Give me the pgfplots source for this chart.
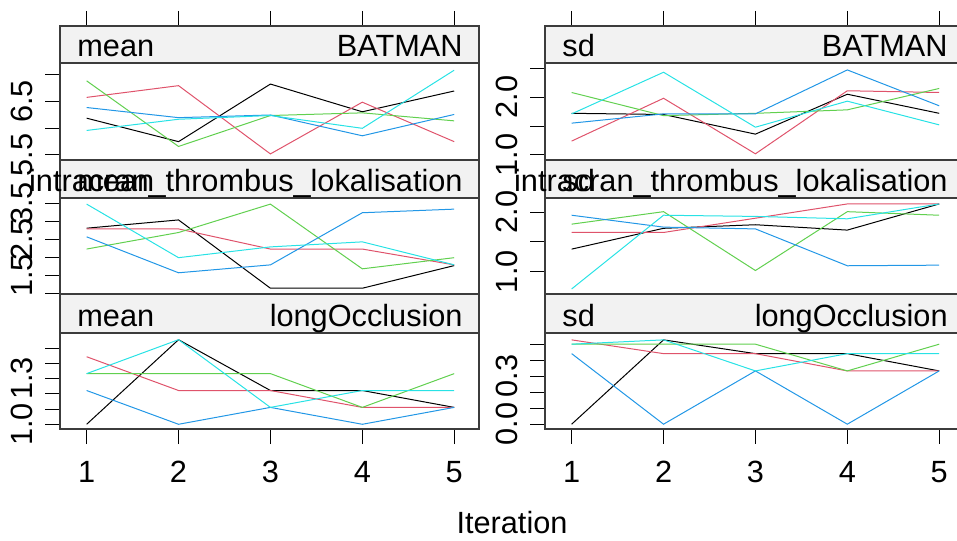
\documentclass[border=0pt]{standalone}
\usepackage{fontspec}
\setmainfont{Liberation Sans}
\usepackage{pgfplots}
\usepackage{pgfplotstable}
\pgfplotsset{compat=1.18}

% chain colours
\definecolor{ch1}{HTML}{000000}
\definecolor{ch2}{HTML}{DF536B}
\definecolor{ch3}{HTML}{61D04F}
\definecolor{ch4}{HTML}{2297E6}
\definecolor{ch5}{HTML}{28E2E5}
\definecolor{stripbg}{HTML}{F2F2F2}
\definecolor{framec}{HTML}{3C3C3C}

\newcommand\lf{\fontsize{15.35}{18.4}\selectfont}

% mean / sd per iteration, one column per chain
\pgfplotstableread{
it c1 c2 c3 c4 c5
1 6.19 6.58 6.89 6.39 5.96
2 5.75 6.80 5.66 6.20 6.17
3 6.83 5.52 6.24 6.25 6.24
4 6.31 6.49 6.29 5.86 6.00
5 6.70 5.75 6.14 6.26 7.09
}\meanBat
\pgfplotstableread{
it c1 c2 c3 c4 c5
1 1.72 1.24 2.08 1.55 1.71
2 1.70 1.98 1.68 1.71 2.43
3 1.36 1.02 1.72 1.71 1.48
4 2.05 2.11 1.78 2.47 1.93
5 1.72 2.08 2.15 1.85 1.52
}\sdBat
\pgfplotstableread{
it c1 c2 c3 c4 c5
1 2.81 2.79 2.23 2.57 3.48
2 3.04 2.79 2.69 1.57 1.99
3 1.14 2.23 3.48 1.79 2.29
4 1.14 2.23 1.68 3.24 2.43
5 1.77 1.79 1.99 3.34 1.79
}\meanIntra
\pgfplotstableread{
it c1 c2 c3 c4 c5
1 1.38 1.66 1.80 1.95 0.71
2 1.73 1.66 2.01 1.75 1.95
3 1.79 1.90 1.02 1.72 1.93
4 1.70 2.14 2.01 1.10 1.89
5 2.14 2.14 1.95 1.11 2.14
}\sdIntra
\pgfplotstableread{
it c1 c2 c3 c4 c5
1 1.000 1.444 1.333 1.222 1.333
2 1.556 1.222 1.333 1.000 1.556
3 1.222 1.222 1.333 1.111 1.111
4 1.222 1.111 1.111 1.000 1.222
5 1.111 1.111 1.333 1.111 1.222
}\meanLong
\pgfplotstableread{
it c1 c2 c3 c4 c5
1 0.000 0.527 0.500 0.441 0.500
2 0.527 0.441 0.500 0.000 0.527
3 0.441 0.441 0.500 0.333 0.333
4 0.441 0.333 0.333 0.000 0.441
5 0.333 0.333 0.500 0.333 0.441
}\sdLong

\newcommand\chains[1]{%
  \addplot[ch1] table[x=it,y=c1]{#1};
  \addplot[ch2] table[x=it,y=c2]{#1};
  \addplot[ch3] table[x=it,y=c3]{#1};
  \addplot[ch4] table[x=it,y=c4]{#1};
  \addplot[ch5] table[x=it,y=c5]{#1};
}

\tikzset{lab/.style={font=\lf, inner sep=0pt}}

\pgfplotsset{
  base/.style={
    scale only axis, width=209.5pt, xmin=0.71, xmax=5.27,
    anchor=south west,
    axis line style={draw=framec, line width=0.65pt},
    tick style={black, line width=0.5pt},
    tick align=outside, major tick length=7.5pt,
    ticklabel style={font=\lf},
    minor tick num=0,
  },
  panel/.style={
    base, ytick pos=left, xtick=\empty,
    yticklabel style={rotate=90, anchor=south, inner xsep=0pt, inner ysep=6pt},
    every axis plot/.append style={line width=0.5pt, mark=none},
  },
  lowpanel/.style={
    panel, xtick={1,2,3,4,5}, xtick pos=lower,
    xticklabels={1,2,3,4,5},
    xticklabel style={anchor=north, inner xsep=0pt, inner ysep=8.5pt},
  },
  strip/.style={
    base, ymin=0, ymax=1, ytick=\empty, xtick=\empty, clip=false,
    axis background/.style={fill=stripbg},
  },
  topstrip/.style={
    strip, xtick={1,2,3,4,5}, xtick pos=upper,
    xticklabels={{},{},{},{},{}},
  },
}

\begin{document}
\begin{tikzpicture}
\useasboundingbox (0,0) rectangle (478.5pt,270pt);

% ---- row 1: BATMAN
\begin{axis}[topstrip, at={(30pt,238.5pt)}, height=18.5pt]
  \node[lab, anchor=base west] at ([xshift=8.5pt,yshift=3pt]rel axis cs:0,0) {mean};
  \node[lab, anchor=base east] at ([xshift=-8pt,yshift=3pt]rel axis cs:1,0) {BATMAN};
\end{axis}
\begin{axis}[panel, at={(30pt,190pt)}, height=48.5pt,
    ymin=5.406, ymax=7.225, ytick={5.5,6,6.5,7}, yticklabels={5.5,,6.5,}]
  \chains{\meanBat}
\end{axis}
\begin{axis}[topstrip, at={(272.5pt,238.5pt)}, height=18.5pt]
  \node[lab, anchor=base west] at ([xshift=8.5pt,yshift=3pt]rel axis cs:0,0) {sd};
  \node[lab, anchor=base east] at ([xshift=-8pt,yshift=3pt]rel axis cs:1,0) {BATMAN};
\end{axis}
\begin{axis}[panel, at={(272.5pt,190pt)}, height=48.5pt,
    ymin=0.913, ymax=2.59, ytick={1,1.5,2,2.5}, yticklabels={1.0,,2.0,}]
  \chains{\sdBat}
\end{axis}

% ---- row 2: intracran_thrombus_lokalisation
\begin{axis}[panel, at={(30pt,123pt)}, height=48pt,
    ymin=0.98, ymax=3.65, ytick={1,1.5,2,2.5,3,3.5}, yticklabels={,1.5,,2.5,,3.5}]
  \chains{\meanIntra}
\end{axis}
\begin{axis}[strip, at={(30pt,171pt)}, height=19pt]
  \node[lab, anchor=base west] at ([xshift=8.5pt,yshift=3pt]rel axis cs:0,0) {mean};
  \node[lab, anchor=base east] at ([xshift=-8pt,yshift=3pt]rel axis cs:1,0) {intracran\_thrombus\_lokalisation};
\end{axis}
\begin{axis}[panel, at={(272.5pt,123pt)}, height=48pt,
    ymin=0.625, ymax=2.24, ytick={1,1.5,2}, yticklabels={1.0,,2.0}]
  \chains{\sdIntra}
\end{axis}
\begin{axis}[strip, at={(272.5pt,171pt)}, height=19pt]
  \node[lab, anchor=base west] at ([xshift=8.5pt,yshift=3pt]rel axis cs:0,0) {sd};
  \node[lab, anchor=base east] at ([xshift=-8pt,yshift=3pt]rel axis cs:1,0) {intracran\_thrombus\_lokalisation};
\end{axis}

% ---- row 3: longOcclusion
\begin{axis}[lowpanel, at={(30pt,55.5pt)}, height=48pt,
    ymin=0.969, ymax=1.60, ytick={1,1.1,1.2,1.3,1.4,1.5}, yticklabels={1.0,,,1.3,,}]
  \chains{\meanLong}
\end{axis}
\begin{axis}[strip, at={(30pt,103.5pt)}, height=19.5pt]
  \node[lab, anchor=base west] at ([xshift=8.5pt,yshift=3pt]rel axis cs:0,0) {mean};
  \node[lab, anchor=base east] at ([xshift=-8pt,yshift=3pt]rel axis cs:1,0) {longOcclusion};
\end{axis}
\begin{axis}[lowpanel, at={(272.5pt,55.5pt)}, height=48pt,
    ymin=-0.03, ymax=0.57, ytick={0,0.1,0.2,0.3,0.4,0.5}, yticklabels={0.0,,,0.3,,}]
  \chains{\sdLong}
\end{axis}
\begin{axis}[strip, at={(272.5pt,103.5pt)}, height=19.5pt]
  \node[lab, anchor=base west] at ([xshift=8.5pt,yshift=3pt]rel axis cs:0,0) {sd};
  \node[lab, anchor=base east] at ([xshift=-8pt,yshift=3pt]rel axis cs:1,0) {longOcclusion};
\end{axis}

\node[lab, anchor=base] at (256pt,3pt) {Iteration};
\end{tikzpicture}
\end{document}
